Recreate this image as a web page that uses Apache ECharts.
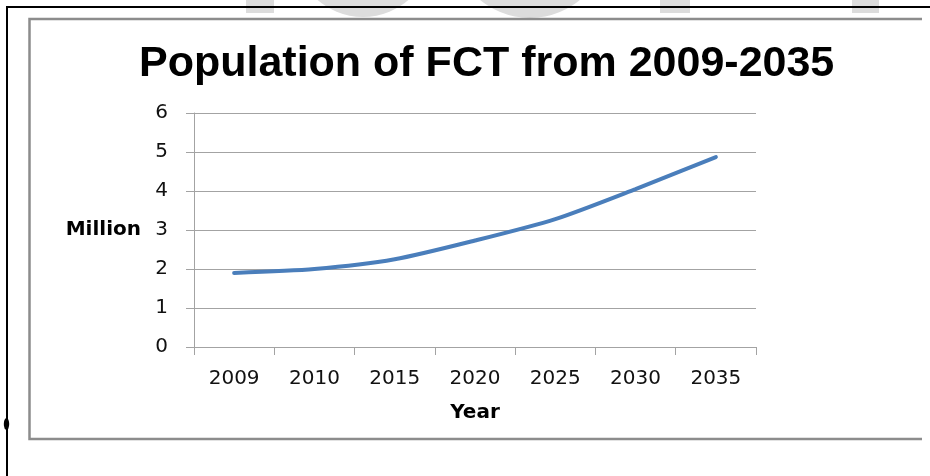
<!DOCTYPE html>
<html>
<head>
<meta charset="utf-8">
<script src="https://cdn.jsdelivr.net/npm/echarts@6/dist/echarts.min.js"></script>
<style>
html,body{margin:0;padding:0;background:#fff;}
#chart{width:930px;height:476px;}
</style>
</head>
<body>
<div id="chart"></div>
<script>
var titleText = 'Population of FCT from 2009-2035';
var years = ['2009', '2010', '2015', '2020', '2025', '2030', '2035'];
var population = [1.9, 2.0, 2.25, 2.73, 3.28, 4.05, 4.87];
var yMin = 0, yMax = 6, yStep = 1;
var yName = 'Million';
var xName = 'Year';

var chart = echarts.init(document.getElementById('chart'), null, {renderer: 'canvas'});
var gridColor = '#a3a3a3';
var wm = '#dcdcdc';
chart.setOption({
  backgroundColor: '#fff',
  animation: false,
  title: {
    text: titleText,
    left: 134,
    top: 38,
    textStyle: {fontFamily: 'Liberation Sans', fontWeight: 'bold', fontSize: 43, color: '#000'}
  },
  grid: {left: 194, right: 174, top: 113, bottom: 129, containLabel: false},
  xAxis: {
    type: 'category',
    data: years,
    boundaryGap: true,
    name: xName,
    nameLocation: 'middle',
    nameGap: 56,
    nameTextStyle: {fontFamily: 'DejaVu Sans', fontWeight: 'bold', fontSize: 20, color: '#000'},
    axisLine: {show: true, lineStyle: {color: gridColor, width: 1}},
    axisTick: {show: true, length: 8, inside: false, alignWithLabel: false, lineStyle: {color: gridColor}},
    axisLabel: {fontFamily: 'DejaVu Sans', fontSize: 20, color: '#111', margin: 22},
    splitLine: {show: false}
  },
  yAxis: {
    type: 'value',
    min: yMin, max: yMax, interval: yStep,
    name: yName,
    nameLocation: 'middle',
    nameRotate: 0,
    nameGap: 53,
    nameTextStyle: {fontFamily: 'DejaVu Sans', fontWeight: 'bold', fontSize: 20, color: '#000', align: 'right', verticalAlign: 'middle'},
    axisLine: {show: true, lineStyle: {color: gridColor, width: 1}},
    axisTick: {show: true, length: 8, inside: false, lineStyle: {color: gridColor}},
    axisLabel: {fontFamily: 'DejaVu Sans', fontSize: 20, color: '#111', margin: 26},
    splitLine: {show: true, lineStyle: {color: gridColor, width: 1}}
  },
  series: [{
    type: 'line',
    data: population,
    smooth: 0.25,
    showSymbol: false,
    lineStyle: {color: '#4a7ebb', width: 4, cap: 'round'},
    itemStyle: {color: '#4a7ebb'}
  }],
  graphic: [
    {type: 'rect', shape: {x: 246, y: 0, width: 28, height: 13}, style: {fill: wm}, z: 1, silent: true},
    {type: 'circle', shape: {cx: 363, cy: -52, r: 69}, style: {fill: wm}, z: 1, silent: true},
    {type: 'circle', shape: {cx: 530, cy: -60, r: 78}, style: {fill: wm}, z: 1, silent: true},
    {type: 'rect', shape: {x: 660, y: 0, width: 30, height: 13}, style: {fill: wm}, z: 1, silent: true},
    {type: 'rect', shape: {x: 852, y: 0, width: 27, height: 13}, style: {fill: wm}, z: 1, silent: true},
    {type: 'polyline', shape: {points: [[922, 19], [29.5, 19], [29.5, 439], [922, 439]]}, style: {stroke: '#8c8c8c', lineWidth: 2.5, fill: null}, z: 5, silent: true},
    {type: 'polyline', shape: {points: [[930, 7], [7, 7], [7, 476]]}, style: {stroke: '#000', lineWidth: 2, fill: null}, z: 6, silent: true},
    {type: 'circle', shape: {cx: 0, cy: 0, r: 6}, x: 6.5, y: 424, scaleX: 0.45, style: {fill: '#000'}, z: 6, silent: true}
  ]
});
</script>
</body>
</html>
